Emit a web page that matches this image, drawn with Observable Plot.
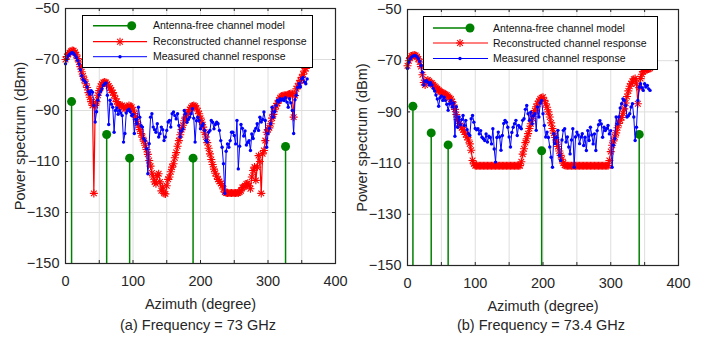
<!DOCTYPE html>
<html><head><meta charset="utf-8">
<script src="https://cdn.jsdelivr.net/npm/d3@7"></script>
<script src="https://cdn.jsdelivr.net/npm/@observablehq/plot@0.6"></script>
<style>
body{margin:0;background:#fff;}
#wrap{position:relative;width:715px;height:343px;overflow:hidden;font-family:"Liberation Sans",Arial,Helvetica,sans-serif;color:#262626;background:#fff;}
.panel{position:absolute;top:0;}
.caption{position:absolute;font-size:14.5px;line-height:1;white-space:nowrap;transform:translateX(-50%);color:#262626;}
</style></head><body><div id="wrap"></div>
<script>
const FONT = '"Liberation Sans", Arial, Helvetica, sans-serif';
const GREEN = "#008000", RED = "#ff0000", BLUE = "#0000ff", INK = "#262626";

const xTickLabels = [0, 100, 200, 300, 400];
const xGrid = [0, 50, 100, 150, 200, 250, 300, 350, 400];
const yTicks = [-150, -130, -110, -90, -70, -50];
const legendLabels = ["Antenna-free channel model", "Reconstructed channel response", "Measured channel response"];
const captions = ["(a) Frequency = 73 GHz", "(b) Frequency = 73.4 GHz"];
const xLabel = "Azimuth (degree)";
const yLabel = "Power spectrum (dBm)";

// Antenna-free channel model (stems)
const modelAzA = [9, 61, 95, 189, 326];
const modelPowA = [-86.5, -99.4, -108.7, -108.7, -104.1];
const modelAzB = [8, 35, 60, 198, 342];
const modelPowB = [-87.8, -98.2, -102.9, -105.2, -98.8];

// azimuth sampling grids (degrees)
const measAzA = d3.range(0, 360, 2);
const reconAzA = d3.range(0, 362, 2);
const measAzB = d3.range(0, 360, 2);
const reconAzB = d3.range(0, 360, 2);

// (a) 73 GHz measured channel response
const measPowA = [
-71.7,-70.0,-68.6,-68.0,-67.5,-67.2,-67.6,-68.3,-69.2,-70.4,
-71.8,-74.0,-76.4,-77.8,-78.4,-79.0,-80.8,-82.6,-83.6,-82.2,
-82.8,-88.0,-94.5,-90.5,-86.0,-83.8,-82.5,-81.5,-80.2,-79.5,
-79.2,-84.0,-95.5,-86.0,-87.5,-88.7,-98.5,-90.0,-89.0,-91.5,
-90.0,-91.0,-92.0,-102.4,-99.0,-91.0,-90.0,-89.5,-90.5,-92.0,
-91.5,-99.0,-93.5,-95.2,-88.7,-92.6,-96.0,-96.5,-101.0,-101.8,
-105.0,-114.8,-103.0,-92.6,-91.3,-96.5,-97.5,-98.5,-95.2,-100.4,
-99.1,-96.5,-97.5,-101.8,-100.4,-97.8,-94.5,-93.9,-96.5,-91.3,
-90.6,-92.0,-93.3,-91.3,-95.9,-100.4,-98.0,-97.2,-90.0,-91.3,
-94.6,-93.5,-92.6,-91.3,-89.3,-93.0,-102.4,-94.0,-92.6,-93.9,
-97.2,-96.0,-95.2,-97.8,-101.8,-102.4,-98.5,-97.8,-93.9,-94.6,
-97.2,-95.5,-94.6,-95.2,-97.8,-101.8,-104.4,-110.9,-122.5,-106.0,
-103.1,-104.4,-101.8,-98.5,-98.5,-99.8,-103.1,-93.9,-112.9,-104.0,
-95.5,-97.0,-100.0,-98.0,-103.5,-102.5,-101.8,-105.7,-99.2,-101.0,
-98.0,-97.0,-95.2,-97.8,-92.6,-94.5,-93.5,-90.6,-93.9,-104.4,
-99.0,-97.0,-95.2,-88.7,-92.6,-90.5,-88.0,-86.1,-86.7,-85.4,
-86.0,-85.5,-86.1,-85.0,-86.7,-88.7,-85.4,-87.0,-90.0,-99.0,
-85.8,-84.0,-81.0,-79.5,-80.8,-77.5,-77.0,-78.8,-79.5,-77.6];

// (a) 73 GHz reconstructed channel response
const reconPowA = [
-70.0,-68.8,-68.0,-67.3,-66.8,-66.5,-66.6,-67.2,-68.2,-69.6,
-71.0,-72.8,-74.8,-76.5,-78.0,-79.5,-81.0,-83.0,-84.8,-86.5,
-88.0,-122.5,-88.0,-86.5,-84.0,-82.2,-80.5,-79.6,-79.0,-78.8,
-79.0,-79.6,-80.4,-81.2,-82.0,-83.0,-84.0,-85.4,-86.5,-87.5,
-88.0,-88.2,-88.0,-88.8,-89.3,-89.0,-88.5,-88.0,-88.3,-88.7,
-89.8,-91.2,-92.6,-94.2,-95.8,-97.5,-99.0,-100.5,-102.0,-103.6,
-105.3,-107.2,-109.6,-111.8,-114.5,-116.1,-118.0,-118.7,-115.5,-114.8,
-118.0,-121.5,-120.0,-122.5,-122.7,-119.5,-117.0,-116.1,-114.0,-112.2,
-110.9,-108.5,-106.5,-104.0,-101.8,-99.5,-97.5,-95.8,-94.0,-92.6,
-91.5,-90.5,-89.6,-88.8,-88.2,-88.0,-88.3,-89.0,-90.2,-91.3,
-93.0,-94.6,-96.5,-98.5,-100.4,-102.6,-104.8,-107.0,-109.2,-111.2,
-113.0,-114.6,-115.8,-117.0,-117.8,-118.6,-119.4,-120.8,-122.0,-122.4,
-122.4,-122.4,-122.4,-122.4,-122.4,-122.4,-122.4,-122.4,-122.4,-122.0,
-121.5,-120.2,-120.0,-119.5,-118.8,-118.5,-119.5,-120.7,-116.1,-113.5,
-112.2,-117.4,-112.2,-107.7,-110.0,-122.5,-107.0,-105.7,-101.8,-98.5,
-97.5,-96.8,-95.2,-93.0,-91.5,-89.5,-88.2,-87.2,-86.0,-85.0,
-84.5,-84.2,-84.0,-84.1,-84.1,-83.8,-83.5,-83.3,-83.5,-92.6,
-84.1,-81.5,-80.5,-79.3,-78.2,-77.0,-75.8,-74.5,-73.5,-72.4,
-71.3];

// (b) 73.4 GHz measured channel response
const measPowB = [
-73.0,-70.5,-69.3,-68.6,-68.2,-68.0,-68.0,-68.5,-69.2,-70.3,
-71.9,-74.5,-79.5,-78.0,-77.8,-78.4,-79.5,-78.6,-79.5,-80.8,
-81.8,-83.4,-85.0,-87.8,-84.5,-83.8,-85.5,-84.3,-85.5,-87.0,
-89.4,-86.8,-85.5,-88.1,-86.5,-99.5,-88.0,-96.0,-92.0,-95.0,
-93.0,-91.4,-95.3,-93.3,-97.0,-98.5,-99.2,-92.7,-91.4,-94.0,
-96.5,-97.0,-96.6,-98.6,-97.3,-99.9,-100.5,-101.2,-98.6,-101.8,
-99.5,-100.0,-102.5,-96.6,-104.5,-109.6,-100.0,-97.9,-99.8,-105.0,
-99.2,-94.5,-93.3,-94.0,-96.0,-99.8,-103.7,-98.0,-96.0,-94.6,
-93.3,-99.2,-95.3,-96.0,-96.6,-93.3,-92.7,-89.0,-87.5,-90.7,
-93.3,-90.1,-94.6,-91.5,-90.7,-97.2,-88.1,-92.0,-86.5,-85.5,
-90.7,-95.3,-99.8,-97.9,-100.0,-103.7,-107.7,-111.6,-98.5,-102.4,
-100.0,-97.2,-107.0,-109.0,-101.0,-97.2,-96.6,-101.8,-99.8,-103.7,
-106.4,-101.0,-96.6,-111.6,-99.8,-97.9,-99.0,-102.4,-99.8,-98.5,
-103.1,-99.9,-105.1,-97.3,-101.2,-96.0,-99.0,-102.5,-98.6,-105.1,
-97.3,-95.0,-93.4,-94.7,-99.9,-96.0,-97.3,-96.5,-95.3,-98.6,
-97.3,-111.6,-103.0,-100.5,-92.0,-94.7,-92.0,-88.5,-86.8,-84.9,
-85.5,-87.5,-92.0,-91.5,-90.7,-88.1,-86.8,-92.0,-101.2,-96.0,
-85.5,-80.3,-79.0,-80.5,-81.6,-79.0,-80.3,-79.7,-81.0,-81.6];

// (b) 73.4 GHz reconstructed channel response
const reconPowB = [
-72.0,-70.0,-68.8,-68.2,-67.9,-67.8,-68.0,-68.5,-69.3,-70.5,
-72.3,-75.5,-78.5,-79.5,-78.0,-77.5,-78.0,-78.6,-78.8,-79.4,
-80.0,-80.5,-81.0,-81.5,-82.0,-82.3,-82.6,-82.9,-83.2,-83.5,
-84.0,-84.5,-85.0,-86.0,-87.3,-89.0,-91.0,-93.0,-94.5,-95.5,
-96.2,-97.0,-97.9,-98.8,-99.9,-101.0,-102.5,-105.0,-109.0,-110.3,
-111.0,-111.0,-111.0,-111.0,-111.0,-111.0,-111.0,-111.0,-111.0,-111.0,
-111.0,-111.0,-111.0,-111.0,-111.0,-111.0,-111.0,-111.0,-111.0,-111.0,
-111.0,-111.0,-111.0,-111.0,-111.0,-111.0,-111.0,-111.0,-111.0,-111.0,
-111.0,-111.0,-111.0,-111.0,-109.5,-106.5,-104.4,-102.0,-100.5,-98.5,
-96.5,-94.6,-92.5,-90.8,-89.5,-88.0,-86.8,-85.8,-85.0,-84.5,
-84.3,-85.5,-86.8,-88.2,-90.0,-92.0,-94.3,-96.5,-98.3,-100.0,
-101.8,-103.5,-105.3,-107.0,-108.5,-110.0,-110.8,-111.0,-111.0,-111.0,
-111.0,-111.0,-111.0,-111.0,-111.0,-111.0,-111.0,-111.0,-111.0,-111.0,
-111.0,-111.0,-111.0,-111.0,-111.0,-111.0,-111.0,-111.0,-111.0,-111.0,
-111.0,-111.0,-111.0,-111.0,-111.0,-111.0,-111.0,-111.0,-111.0,-109.0,
-105.5,-103.0,-101.3,-99.8,-98.2,-96.2,-94.5,-93.2,-92.2,-90.5,
-88.8,-86.5,-84.0,-81.8,-80.0,-79.0,-78.0,-77.2,-77.0,-79.0,
-86.8,-80.5,-77.0,-75.3,-74.2,-73.8,-73.5,-73.3,-73.2,-73.0];

function rows(az, pow) { return pow.map((p, i) => ({az: az[i], p})); }

function makePanel(cfg) {
  const meas = rows(cfg.measAz, cfg.measPow);
  const recon = rows(cfg.reconAz, cfg.reconPow);
  const model = rows(cfg.modelAz, cfg.modelPow);
  const ph = cfg.height - cfg.mt - cfg.mb;
  const pw = cfg.width - cfg.ml - cfg.mr;
  const plot = Plot.plot({
    width: cfg.width, height: cfg.height,
    marginLeft: cfg.ml, marginRight: cfg.mr, marginTop: cfg.mt, marginBottom: cfg.mb,
    style: {fontFamily: FONT, fontSize: "14.5px", color: INK, background: "transparent", overflow: "visible"},
    x: {domain: [0, 400]},
    y: {domain: [-150, -50]},
    marks: [
      Plot.gridX(xGrid, {stroke: "#dedede", strokeOpacity: 1, strokeWidth: 1}),
      Plot.gridY(yTicks, {stroke: "#dedede", strokeOpacity: 1, strokeWidth: 1}),
      Plot.ruleX(model, {x: "az", y1: yTicks[0], y2: "p", stroke: GREEN, strokeWidth: 1.5}),
      Plot.dot(model, {x: "az", y: "p", fill: GREEN, r: 4.5}),
      Plot.line(recon, {x: "az", y: "p", stroke: RED, strokeWidth: 1.2}),
      Plot.dot(recon, {x: "az", y: "p", symbol: "plus", stroke: RED, r: 2.7, strokeWidth: 1.1}),
      Plot.dot(recon, {x: "az", y: "p", symbol: "times", stroke: RED, r: 2.7, strokeWidth: 1.1}),
      Plot.line(meas, {x: "az", y: "p", stroke: BLUE, strokeWidth: 1}),
      Plot.dot(meas, {x: "az", y: "p", fill: BLUE, r: 1.7}),
      Plot.tickX(xGrid, {x: d => d, stroke: INK, insetTop: ph - 3}),
      Plot.tickX(xGrid, {x: d => d, stroke: INK, insetBottom: ph - 3}),
      Plot.tickY(yTicks, {y: d => d, stroke: INK, insetRight: pw - 3}),
      Plot.tickY(yTicks, {y: d => d, stroke: INK, insetLeft: pw - 3}),
      Plot.frame({stroke: INK, strokeWidth: 1.2}),
      Plot.axisX(xTickLabels, {tickSize: 0, tickPadding: 12, fontSize: 14.5, label: null}),
      Plot.axisY(yTicks, {tickSize: 0, tickPadding: 6, fontSize: 14.5, label: null}),
      Plot.text([xLabel], {text: d => d, frameAnchor: "bottom", lineAnchor: "bottom", dy: 45, fontSize: 14.5, fill: INK}),
      Plot.text([yLabel], {text: d => d, frameAnchor: "left", textAnchor: "middle", lineAnchor: "top", rotate: -90, dx: -50.5, fontSize: 14.5, fill: INK})
    ]
  });
  plot.classList.add("panel");
  plot.style.left = cfg.left + "px";
  document.getElementById("wrap").appendChild(plot);
}

function drawLegend(cfg) {
  const svg = d3.select("#wrap").append("svg")
    .attr("width", cfg.w + 1).attr("height", cfg.h + 1)
    .style("position", "absolute").style("left", cfg.left + "px").style("top", cfg.top + "px");
  svg.append("rect").attr("x", 0.5).attr("y", 0.5).attr("width", cfg.w).attr("height", cfg.h)
    .attr("fill", "#fff").attr("stroke", "#000").attr("stroke-width", 1);
  const r = cfg.rows;
  svg.append("line").attr("x1", cfg.x0).attr("x2", cfg.xc).attr("y1", r[0]).attr("y2", r[0]).attr("stroke", GREEN).attr("stroke-width", 1.5);
  svg.append("circle").attr("cx", cfg.xc).attr("cy", r[0]).attr("r", 4.5).attr("fill", GREEN);
  svg.append("line").attr("x1", cfg.x0).attr("x2", cfg.x1).attr("y1", r[1]).attr("y2", r[1]).attr("stroke", RED).attr("stroke-width", 1.2);
  const s = 2.7 * 2.7 * Math.PI;
  [d3.symbolPlus, d3.symbolTimes].forEach(sym => {
    svg.append("path").attr("d", d3.symbol(sym, s)()).attr("transform", `translate(${cfg.xs},${r[1]})`)
      .attr("fill", "none").attr("stroke", RED).attr("stroke-width", 1.1);
  });
  svg.append("line").attr("x1", cfg.x0).attr("x2", cfg.x1).attr("y1", r[2]).attr("y2", r[2]).attr("stroke", BLUE).attr("stroke-width", 1);
  svg.append("circle").attr("cx", cfg.xs).attr("cy", r[2]).attr("r", 1.7).attr("fill", BLUE);
  legendLabels.forEach((t, i) => {
    svg.append("text").attr("x", cfg.tx).attr("y", r[i]).attr("dy", "0.35em")
      .attr("font-family", FONT).attr("font-size", 10.5).attr("fill", "#111").text(t);
  });
}

function addCaption(text, cx) {
  d3.select("#wrap").append("div").attr("class", "caption")
    .style("left", cx + "px").style("top", "317.5px").text(text);
}

makePanel({left: 0, width: 357, height: 315, ml: 65, mr: 22, mt: 8, mb: 52,
  measAz: measAzA, measPow: measPowA, reconAz: reconAzA, reconPow: reconPowA, modelAz: modelAzA, modelPow: modelPowA});
makePanel({left: 357, width: 358, height: 315, ml: 50, mr: 37, mt: 9, mb: 50,
  measAz: measAzB, measPow: measPowB, reconAz: reconAzB, reconPow: reconPowB, modelAz: modelAzB, modelPow: modelPowB});

drawLegend({left: 82, top: 15, w: 230, h: 52, x0: 11, x1: 65, xc: 49.7, xs: 38, tx: 71, rows: [10.7, 26.7, 41.7]});
drawLegend({left: 423, top: 16, w: 234, h: 53, x0: 10, x1: 65, xc: 47, xs: 37, tx: 70, rows: [12, 27, 42.5]});

addCaption(captions[0], 198);
addCaption(captions[1], 541);
</script>
</body></html>
